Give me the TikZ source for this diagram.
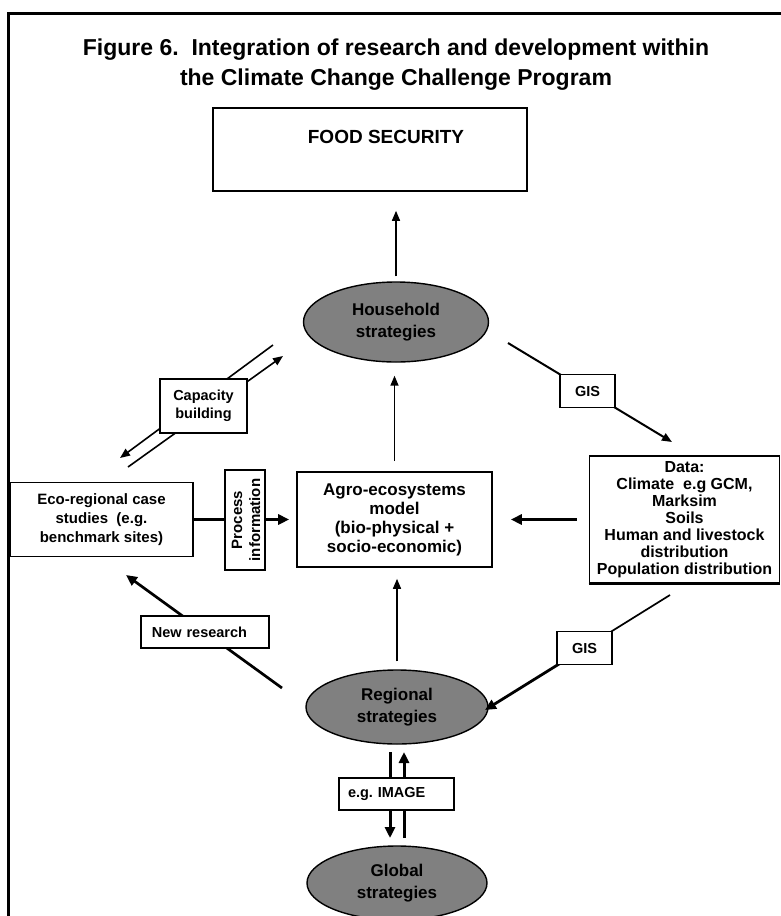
\documentclass[tikz,border=0pt]{standalone}
\usepackage{fontspec}
\setmainfont{Liberation Sans}
\usetikzlibrary{arrows.meta,shapes.geometric}
\definecolor{ellgray}{RGB}{128,128,128}
\frenchspacing
\begin{document}
\begin{tikzpicture}[x=1pt,y=-1pt,
  every node/.style={font=\bfseries},
  bx/.style={draw,line width=1.6pt,fill=white,inner sep=0pt,align=center},
  lab/.style={draw,line width=1.6pt,fill=white,inner sep=0pt,align=center,font=\bfseries\fontsize{14.5}{18}\selectfont},
  ell/.style={ellipse,draw,line width=1.4pt,fill=ellgray,inner sep=0pt,align=center,font=\bfseries\fontsize{17}{22}\selectfont},
  arr/.style={line width=1.5pt,-{Triangle[length=10pt,width=8pt]}},
  arrthick/.style={line width=3pt,-{Triangle[length=11pt,width=10pt]}},
  thickline/.style={line width=3pt},
  midline/.style={line width=1.6pt}
]
\useasboundingbox (0,0) rectangle (781,916);
% frame
\draw[line width=2.7pt] (8.7,930) -- (8.7,13.8) -- (795,13.8);
% title
\node[font=\bfseries\fontsize{23}{30}\selectfont,align=center] (title) at (396,65)
  {Figure 6.\ \ Integration of research and development within\\the Climate Change Challenge Program};

% boxes
\node[bx,minimum width=314pt,minimum height=83pt] (food) at (370,149.5) {};
\node[font=\bfseries\fontsize{19}{22}\selectfont] (foodt) at (386,137) {FOOD SECURITY};

\node[ell,minimum width=185pt,minimum height=80pt] (hh) at (396,322) {Household\\strategies};
\node[ell,minimum width=182pt,minimum height=74pt] (reg) at (397,707) {Regional\\strategies};
\node[ell,minimum width=180pt,minimum height=74pt] (glob) at (397,883) {Global\\strategies};

\node[bx,minimum width=195pt,minimum height=95pt,font=\bfseries\fontsize{17}{19}\selectfont] (agro) at (394.5,519.5)
  {Agro-ecosystems\\model\\(bio-physical +\\socio-economic)};
\node[bx,minimum width=183pt,minimum height=74pt,font=\bfseries\fontsize{15}{19}\selectfont] (eco) at (101.5,519.5)
  {Eco-regional case\\studies\ \ (e.g.\\benchmark sites)};
\node[bx,minimum width=40pt,minimum height=100pt] (proc) at (245,520) {};
\node[rotate=90,align=center,font=\bfseries\fontsize{15}{18}\selectfont] (proct) at (246,520) {Process\\information};
\node[bx,minimum width=190pt,minimum height=127pt,font=\bfseries\fontsize{16}{17}\selectfont] (data) at (684.5,519.5)
  {Data:\\Climate\ \ e.g GCM,\\Marksim\\Soils\\Human and livestock\\distribution\\Population distribution};
\draw[line width=1.6pt] (data.south west) -- (data.south east);

% vertical arrows
\draw[arr,shorten <=5pt,shorten >=19pt] (hh.north) -- (hh.north |- food.south);
\draw[arr,shorten <=10pt,shorten >=13pt] (agro.north) -- (agro.north |- hh.south);
\draw[arr,shorten <=8pt,shorten >=11pt] (reg.north) -- (reg.north |- agro.south);

% horizontal arrows
\draw[thickline] (eco.east) -- (eco.east -| proc.west);
\draw[arrthick,shorten >=7pt] (proc.east |- eco.east) -- (eco.east -| agro.west);
\draw[arrthick,shorten <=12pt,shorten >=18pt] (data.west) -- (data.west -| agro.east);

% GIS upper
\coordinate (gu1) at (508,343);
\coordinate (gu2) at (672,442);
\draw[line width=2pt,-{Triangle[length=10pt,width=8pt]}] (gu1) -- node[lab,pos=0.485,minimum width=55pt,minimum height=33pt] (gisA) {GIS} (gu2);

% GIS lower
\coordinate (gl1) at (670,595);
\coordinate (gl2) at (485,710);
\coordinate (glc) at (584.6,648.1);
\draw[line width=1.7pt] (gl1) -- (glc);
\draw[line width=2.8pt,-{Triangle[length=11pt,width=10pt]}] (glc) -- (gl2);
\node[lab,minimum width=55pt,minimum height=33pt] (gisB) at (glc) {GIS};

% New research
\coordinate (nr1) at (282,688);
\coordinate (nr2) at (126,575);
\draw[line width=2.7pt,-{Triangle[length=11pt,width=10pt]}] (nr1) -- node[lab,pos=0.494,minimum height=32pt,text width=106pt,inner xsep=11pt,align=left] (newr) {New research} (nr2);

% Capacity building
\coordinate (cb1) at (273,345);
\coordinate (cb2) at (120,458);
\coordinate (cb3) at (128,467);
\coordinate (cb4) at (283,356);
\draw[midline,-{Triangle[length=10pt,width=8pt]}] (cb1) -- (cb2);
\draw[midline,-{Triangle[length=10pt,width=8pt]}] (cb3) -- (cb4);
\node[lab,minimum width=87pt,minimum height=54pt] (cap) at (203.5,406) {Capacity\\building};

% Regional <-> Global
\coordinate (rg1) at (390,752);
\coordinate (rg2) at (390,838);
\coordinate (rg3) at (404,838);
\coordinate (rg4) at (404,752);
\draw[arrthick] (rg1) -- (rg2);
\draw[arrthick] (rg3) -- (rg4);
\node[lab,minimum height=32pt,text width=97pt,inner xsep=9pt,align=left] (eg) at (396.5,794) {e.g. IMAGE};
\end{tikzpicture}
\end{document}
